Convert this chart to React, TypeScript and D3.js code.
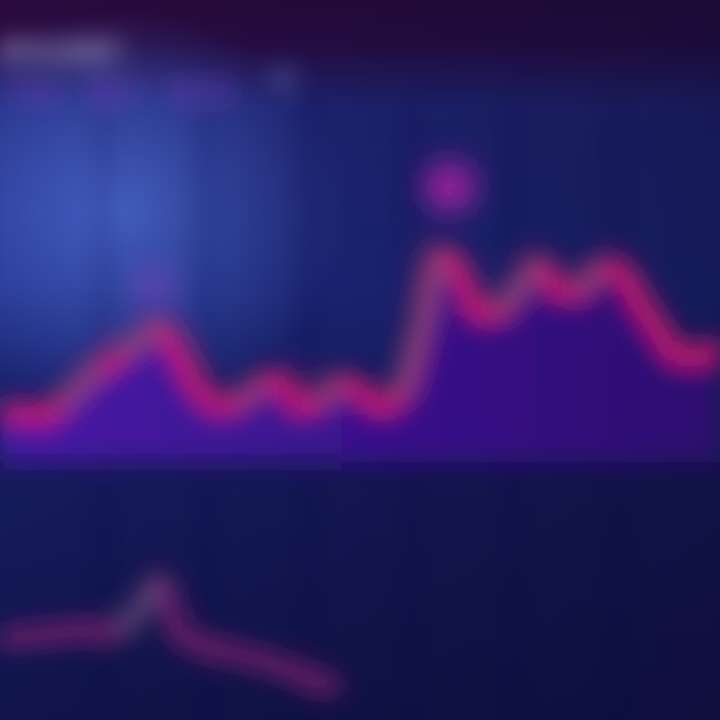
import * as d3 from 'd3';
import { useEffect, useRef } from 'react';

// main price series (one point per period)
const mainValues = [
  17.2, 18.1, 17.2, 20.3, 26.6, 31.9, 35.9, 40.6, 44.7, 35.9, 25.0, 20.3, 21.9, 26.6, 28.1, 20.3,
  21.9, 27.2, 25.0, 20.3, 23.4, 43.8, 67.2, 62.5, 49.4, 50.0, 57.8, 64.1, 56.3, 56.3, 63.1, 62.5,
  53.1, 43.8, 35.9, 35.9, 39.1,
];

// lower indicator series
const lowerValues = [
  50, 51.5, 52.5, 53.5, 55, 54, 55, 66, 79, 52.5, 47.5, 45, 42.5, 40, 36.5, 32.5, 29, 27,
];

const legendLabels = ['Price', 'MA 7', 'MA 25'];
const titleText = 'BTC/USDT';
const badgeText = '1D';

const W = 720;
const H = 720;

export default function App() {
  const svgRef = useRef<SVGSVGElement | null>(null);

  useEffect(() => {
    if (!svgRef.current) return;
    const svg = d3.select(svgRef.current);
    svg.selectAll('*').remove();

    const defs = svg.append('defs');

    const bg = defs
      .append('linearGradient')
      .attr('id', 'bg')
      .attr('x1', 0)
      .attr('y1', 0)
      .attr('x2', 0)
      .attr('y2', 1);
    [
      [0, '#2a0a3c'],
      [0.06, '#2a0c44'],
      [0.15, '#22287c'],
      [0.4, '#1e2a82'],
      [0.66, '#161b5c'],
      [1, '#10144a'],
    ].forEach(([o, c]) => bg.append('stop').attr('offset', o as number).attr('stop-color', c as string));

    const glow = defs.append('radialGradient').attr('id', 'glow');
    glow.append('stop').attr('offset', 0).attr('stop-color', '#4f70d8').attr('stop-opacity', 0.85);
    glow.append('stop').attr('offset', 1).attr('stop-color', '#4f70d8').attr('stop-opacity', 0);

    const dark = defs
      .append('linearGradient')
      .attr('id', 'dark')
      .attr('x1', 0)
      .attr('x2', 1);
    dark.append('stop').attr('offset', 0).attr('stop-color', '#0c0a30').attr('stop-opacity', 0);
    dark.append('stop').attr('offset', 1).attr('stop-color', '#0c0a30').attr('stop-opacity', 0.5);

    const area = defs
      .append('linearGradient')
      .attr('id', 'area')
      .attr('x1', 0)
      .attr('y1', 0)
      .attr('x2', 1)
      .attr('y2', 0);
    area.append('stop').attr('offset', 0).attr('stop-color', '#4a1aa8');
    area.append('stop').attr('offset', 0.5).attr('stop-color', '#3a128e');
    area.append('stop').attr('offset', 1).attr('stop-color', '#2e0a70');

    const blur = defs
      .append('filter')
      .attr('id', 'blur')
      .attr('x', '-20%')
      .attr('y', '-20%')
      .attr('width', '140%')
      .attr('height', '140%');
    blur.append('feGaussianBlur').attr('stdDeviation', 12);

    const softBlur = defs
      .append('filter')
      .attr('id', 'soft')
      .attr('x', '-50%')
      .attr('y', '-50%')
      .attr('width', '200%')
      .attr('height', '200%');
    softBlur.append('feGaussianBlur').attr('stdDeviation', 16);

    svg.append('rect').attr('width', W).attr('height', H).attr('fill', 'url(#bg)');
    svg
      .append('ellipse')
      .attr('cx', 120)
      .attr('cy', 210)
      .attr('rx', 230)
      .attr('ry', 200)
      .attr('fill', 'url(#glow)');
    svg.append('rect').attr('width', W).attr('height', H).attr('fill', 'url(#dark)');

    const g = svg.append('g').attr('filter', 'url(#blur)');

    // faint vertical grid
    const gridX = d3.scaleLinear().domain([0, 7]).range([0, W]);
    g.selectAll('.vgrid')
      .data(d3.range(1, 7))
      .join('line')
      .attr('x1', (d) => gridX(d))
      .attr('x2', (d) => gridX(d))
      .attr('y1', 100)
      .attr('y2', H)
      .attr('stroke', '#0e1040')
      .attr('stroke-opacity', 0.45)
      .attr('stroke-width', 6);

    // main chart
    const x = d3.scaleLinear().domain([0, mainValues.length - 1]).range([0, W]);
    const y = d3.scaleLinear().domain([0, 100]).range([470, 150]);
    const baseY = 462;

    const areaGen = d3
      .area<number>()
      .x((_, i) => x(i))
      .y0(baseY)
      .y1((d) => y(d))
      .curve(d3.curveMonotoneX);
    g.append('path').attr('d', areaGen(mainValues)).attr('fill', 'url(#area)').attr('opacity', 0.95);

    const lineGen = d3
      .line<number>()
      .x((_, i) => x(i))
      .y((d) => y(d))
      .curve(d3.curveMonotoneX);

    g.append('path')
      .attr('d', lineGen(mainValues))
      .attr('fill', 'none')
      .attr('stroke', '#d0186e')
      .attr('stroke-width', 26)
      .attr('stroke-opacity', 0.45);
    g.append('path')
      .attr('d', lineGen(mainValues))
      .attr('fill', 'none')
      .attr('stroke', '#e01a70')
      .attr('stroke-width', 12);

    // steep rising segments drawn in a muted teal
    const rises = d3
      .pairs(mainValues.map((v, i) => [i, v] as [number, number]))
      .filter(([a, b]) => b[1] - a[1] > 4);
    g.selectAll('.rise')
      .data(rises)
      .join('line')
      .attr('x1', ([a]) => x(a[0]))
      .attr('y1', ([a]) => y(a[1]))
      .attr('x2', ([, b]) => x(b[0]))
      .attr('y2', ([, b]) => y(b[1]))
      .attr('stroke', '#4a7a88')
      .attr('stroke-width', 12)
      .attr('stroke-opacity', 0.55);

    // peak markers
    const peakIdx = d3.maxIndex(mainValues);
    svg
      .append('circle')
      .attr('cx', x(peakIdx) + 10)
      .attr('cy', y(mainValues[peakIdx]) - 68)
      .attr('r', 24)
      .attr('fill', '#b020a8')
      .attr('filter', 'url(#soft)');
    svg
      .append('circle')
      .attr('cx', x(8) - 5)
      .attr('cy', y(mainValues[8]) - 40)
      .attr('r', 20)
      .attr('fill', '#8a40c0')
      .attr('opacity', 0.6)
      .attr('filter', 'url(#soft)');

    // lower chart
    const x2 = d3.scaleLinear().domain([0, lowerValues.length - 1]).range([0, 340]);
    const y2 = d3.scaleLinear().domain([0, 100]).range([740, 540]);
    const line2 = d3
      .line<number>()
      .x((_, i) => x2(i))
      .y((d) => y2(d))
      .curve(d3.curveMonotoneX);
    g.append('path')
      .attr('d', line2(lowerValues))
      .attr('fill', 'none')
      .attr('stroke', '#a0207a')
      .attr('stroke-width', 18)
      .attr('stroke-opacity', 0.75);
    const rises2 = d3
      .pairs(lowerValues.map((v, i) => [i, v] as [number, number]))
      .filter(([a, b]) => b[1] - a[1] > 5);
    g.selectAll('.rise2')
      .data(rises2)
      .join('line')
      .attr('x1', ([a]) => x2(a[0]))
      .attr('y1', ([a]) => y2(a[1]))
      .attr('x2', ([, b]) => x2(b[0]))
      .attr('y2', ([, b]) => y2(b[1]))
      .attr('stroke', '#3a7a80')
      .attr('stroke-width', 12)
      .attr('stroke-opacity', 0.6);

    // header texts
    g.append('text')
      .attr('x', 0)
      .attr('y', 60)
      .attr('fill', '#c8c0e8')
      .attr('font-family', 'Inter, sans-serif')
      .attr('font-weight', 700)
      .attr('font-size', 24)
      .text(titleText);
    const lx = d3.scaleBand<string>().domain(legendLabels).range([10, 250]);
    g.selectAll('.leg')
      .data(legendLabels)
      .join('text')
      .attr('x', (d) => lx(d)!)
      .attr('y', 98)
      .attr('fill', '#8a3ad0')
      .attr('font-family', 'Inter, sans-serif')
      .attr('font-weight', 700)
      .attr('font-size', 20)
      .text((d) => d);
    g.append('text')
      .attr('x', 270)
      .attr('y', 86)
      .attr('fill', '#7c8ad8')
      .attr('font-family', 'Inter, sans-serif')
      .attr('font-weight', 700)
      .attr('font-size', 22)
      .text(badgeText);
  }, []);

  return (
    <svg
      ref={svgRef}
      width={W}
      height={H}
      style={{ position: 'fixed', left: 0, top: 0, display: 'block' }}
    />
  );
}
